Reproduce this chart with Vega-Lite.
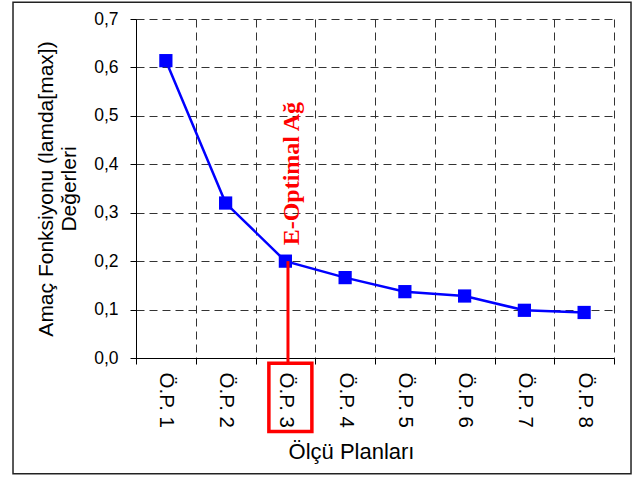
{
  "$schema": "https://vega.github.io/schema/vega-lite/v6.json",
  "background": "white",
  "width": 478,
  "height": 339,
  "padding": {"left": 12, "top": 1, "right": 5, "bottom": 3},
  "config": {
    "view": {"stroke": null},
    "font": "Liberation Sans",
    "axis": {"labelFont": "Liberation Sans", "titleFont": "Liberation Sans", "labelColor": "black", "titleColor": "black", "titleFontWeight": "normal"}
  },
  "resolve": {"scale": {"x": "independent"}},
  "layer": [
    {
      "data": {"values": [{}]},
      "mark": {"type": "rect", "fill": null, "stroke": "#222222", "strokeWidth": 1.5},
      "encoding": {
        "x": {"datum": -0.2573, "type": "quantitative", "scale": {"domain": [0, 1], "zero": false, "nice": false}, "axis": null},
        "x2": {"datum": 1.0356},
        "y": {"datum": 0.7347, "type": "quantitative", "scale": {"domain": [0, 0.7], "nice": false, "zero": false}},
        "y2": {"datum": -0.2389}
      }
    },
    {
      "data": {"values": [
        {"plan": "Ö.P. 1", "value": 0.614},
        {"plan": "Ö.P. 2", "value": 0.32},
        {"plan": "Ö.P. 3", "value": 0.2},
        {"plan": "Ö.P. 4", "value": 0.166},
        {"plan": "Ö.P. 5", "value": 0.137},
        {"plan": "Ö.P. 6", "value": 0.128},
        {"plan": "Ö.P. 7", "value": 0.0985},
        {"plan": "Ö.P. 8", "value": 0.094}
      ]},
      "layer": [
        {
          "mark": {"type": "line", "color": "#0000FF", "strokeWidth": 2.5},
          "encoding": {
            "x": {
              "field": "plan", "type": "nominal", "sort": null,
              "scale": {"paddingInner": 0, "paddingOuter": 0},
              "axis": {
                "title": "Ölçü Planları",
                "titleFontSize": 22,
                "titlePadding": 14,
                "titleX": 215,
                "labelFontSize": 20.5,
                "labelAngle": 90,
                "labelPadding": 8,
                "tickBand": "extent",
                "tickSize": 6,
                "tickColor": "black",
                "domainColor": "black",
                "grid": true,
                "gridColor": "#333333",
                "gridDash": [8, 5],
                "gridWidth": 1
              }
            },
            "y": {
              "field": "value", "type": "quantitative",
              "scale": {"domain": [0, 0.7], "nice": false, "zero": false},
              "axis": {
                "title": ["Amaç Fonksiyonu (lamda[max])", "Değerleri"],
                "titleFontSize": 21,
                "titlePadding": 14,
                "labelFontSize": 17.5,
                "labelPadding": 12,
                "values": [0, 0.1, 0.2, 0.3, 0.4, 0.5, 0.6, 0.7],
                "labelExpr": "replace(format(datum.value, '.1f'), '.', ',')",
                "tickSize": 6,
                "tickColor": "black",
                "domainColor": "black",
                "grid": true,
                "gridColor": "#333333",
                "gridDash": [8, 5],
                "gridWidth": 1
              }
            }
          }
        },
        {
          "mark": {"type": "point", "shape": "square", "filled": true, "color": "#0000FF", "size": 175, "opacity": 1},
          "encoding": {
            "x": {"field": "plan", "type": "nominal", "sort": null},
            "y": {"field": "value", "type": "quantitative", "scale": {"domain": [0, 0.7], "nice": false, "zero": false}}
          }
        },
        {
          "data": {"values": [{"plan": "Ö.P. 3"}]},
          "mark": {"type": "rule", "color": "#FF0000", "strokeWidth": 3, "xOffset": 2.6},
          "encoding": {
            "x": {"field": "plan", "type": "nominal"},
            "y": {"datum": 0.2, "type": "quantitative", "scale": {"domain": [0, 0.7], "nice": false, "zero": false}},
            "y2": {"datum": -0.011}
          }
        },
        {
          "data": {"values": [{"plan": "Ö.P. 3"}]},
          "mark": {"type": "bar", "fill": "transparent", "stroke": "#FF0000", "strokeWidth": 3.5, "width": 43, "xOffset": 5},
          "encoding": {
            "x": {"field": "plan", "type": "nominal"},
            "y": {"datum": -0.011, "type": "quantitative", "scale": {"domain": [0, 0.7], "nice": false, "zero": false}},
            "y2": {"datum": -0.152}
          }
        },
        {
          "data": {"values": [{"plan": "Ö.P. 3", "label": "E-Optimal Ağ"}]},
          "mark": {"type": "text", "angle": 270, "align": "center", "baseline": "middle", "font": "Liberation Serif", "fontWeight": "bold", "fontSize": 24, "color": "#FF0000", "xOffset": 7},
          "encoding": {
            "x": {"field": "plan", "type": "nominal"},
            "y": {"datum": 0.3806, "type": "quantitative", "scale": {"domain": [0, 0.7], "nice": false, "zero": false}},
            "text": {"field": "label"}
          }
        }
      ]
    }
  ]
}
